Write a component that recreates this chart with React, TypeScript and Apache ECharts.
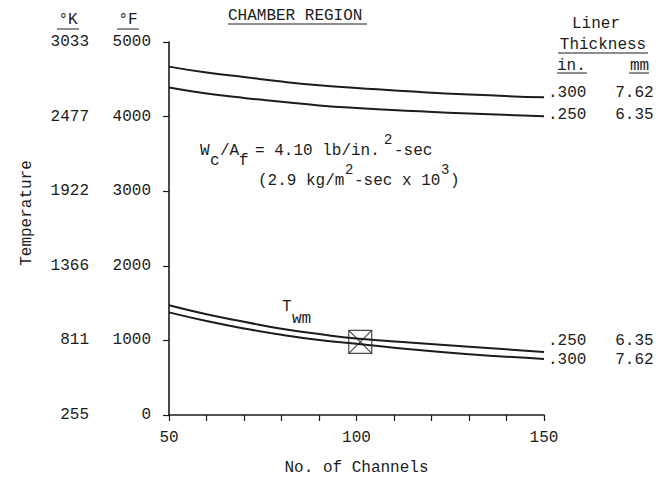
import React, { useEffect, useRef } from "react";
import * as echarts from "echarts";

// Number of coolant channels (x values of every curve)
const channels = [50, 60, 70, 80, 90, 100, 115, 130, 150];

// Chamber gas-side curves, °F
const gasSide300 = [4670, 4590, 4530, 4470, 4420, 4385, 4335, 4295, 4258];
const gasSide250 = [4390, 4310, 4250, 4200, 4150, 4115, 4075, 4040, 4005];

// Mean wall temperature T_wm curves, °F
const wallMean250 = [1470, 1350, 1250, 1155, 1085, 1025, 968, 915, 845];
const wallMean300 = [1376, 1260, 1160, 1075, 1005, 955, 878, 815, 752];

// Design point (boxed X)
const designX = [101];
const designY = [980];

// Kelvin equivalents of the °F ticks 0..5000
const kelvinLabels = ["255", "811", "1366", "1922", "2477", "3033"];

// Liner thickness labels at the curve ends
const thicknessIn = { t300: ".300", t250: ".250" };
const thicknessMm = { t300: "7.62", t250: "6.35" };

const FONT = '"Liberation Mono", "DejaVu Sans Mono", monospace';
const INK = "#1c1c1c";
const FS = 16;

const pairs = (ys: number[]) => channels.map((c, i) => [c, ys[i]]);

function txt(text: string, x: number, y: number, align = "left", extra: any = {}, size = FS) {
  return {
    type: "text",
    x,
    y,
    silent: true,
    ...extra,
    style: {
      text,
      fontFamily: FONT,
      fontSize: size,
      fill: INK,
      align,
      verticalAlign: "middle",
    },
  };
}

function rule(x1: number, x2: number, y: number) {
  return {
    type: "line",
    silent: true,
    shape: { x1, y1: y, x2, y2: y },
    style: { stroke: INK, lineWidth: 1 },
  };
}

function curve(name: string, ys: number[], label: string, dy: number) {
  return {
    name,
    type: "line",
    data: pairs(ys),
    smooth: true,
    showSymbol: false,
    symbol: "none",
    lineStyle: { color: INK, width: 2 },
    endLabel: {
      show: true,
      formatter: label,
      fontFamily: FONT,
      fontSize: FS,
      color: INK,
      distance: 4,
      offset: [0, dy],
    },
  };
}

export default function App() {
  const ref = useRef<HTMLDivElement>(null);

  useEffect(() => {
    if (!ref.current) return;
    const chart = echarts.init(ref.current, null, { renderer: "svg" });

    const option: any = {
      animation: false,
      backgroundColor: "#ffffff",
      grid: { left: 169, right: 128, top: 42, bottom: 63 },
      xAxis: {
        type: "value",
        min: 50,
        max: 150,
        interval: 50,
        name: "No. of Channels",
        nameLocation: "middle",
        nameGap: 45,
        nameTextStyle: { fontFamily: FONT, fontSize: FS, color: INK },
        axisLine: { show: true, onZero: false, lineStyle: { color: INK, width: 1.6 } },
        axisTick: { show: true, length: 6, lineStyle: { color: INK, width: 1.2 } },
        minorTick: { show: true, splitNumber: 5, length: 6, lineStyle: { color: INK, width: 1.2 } },
        splitLine: { show: false },
        minorSplitLine: { show: false },
        axisLabel: { margin: 15, fontFamily: FONT, fontSize: FS, color: INK, formatter: (v: number) => String(v) },
      },
      yAxis: [
        {
          type: "value",
          min: 0,
          max: 5000,
          interval: 1000,
          position: "left",
          axisLine: { show: true, onZero: false, lineStyle: { color: INK, width: 1.6 } },
          axisTick: { show: true, length: 6, lineStyle: { color: INK, width: 1.2 } },
          splitLine: { show: false },
          axisLabel: {
            margin: 18,
            fontFamily: FONT,
            fontSize: FS,
            color: INK,
            formatter: (v: number) => String(v),
          },
        },
        {
          type: "value",
          min: 0,
          max: 5000,
          interval: 1000,
          position: "left",
          axisLine: { show: false },
          axisTick: { show: false },
          splitLine: { show: false },
          axisLabel: {
            margin: 80,
            fontFamily: FONT,
            fontSize: FS,
            color: INK,
            formatter: (v: number) => kelvinLabels[Math.round(v / 1000)] ?? "",
          },
        },
      ],
      series: [
        curve("gas300", gasSide300, `${thicknessIn.t300}   ${thicknessMm.t300}`, -4),
        curve("gas250", gasSide250, `${thicknessIn.t250}   ${thicknessMm.t250}`, -1),
        curve("twm250", wallMean250, `${thicknessIn.t250}   ${thicknessMm.t250}`, -11),
        curve("twm300", wallMean300, `${thicknessIn.t300}   ${thicknessMm.t300}`, 1),
        {
          name: "design",
          type: "scatter",
          data: designX.map((x, i) => [x, designY[i]]),
          symbol: "path://M0,0H24V24H0Z M0,0L24,24 M24,0L0,24",
          symbolSize: 23,
          itemStyle: { color: "rgba(0,0,0,0)", borderColor: INK, borderWidth: 1.2 },
          z: 5,
        },
      ],
      graphic: [
        // column headers
        txt("°K", 68, 20, "center"),
        rule(57, 79, 29),
        txt("°F", 128, 20, "center"),
        rule(117, 139, 29),
        txt("CHAMBER REGION", 228, 16),
        rule(228, 367, 24),
        // liner thickness key
        txt("Liner", 596, 24, "center"),
        txt("Thickness", 603, 45, "center"),
        rule(558, 648, 53),
        txt("in.", 557, 66),
        rule(557, 587, 73),
        txt("mm", 630, 66),
        rule(629, 649, 73),
        // flow-rate annotation
        txt("W", 200, 151),
        txt("c", 210, 161),
        txt("/A", 220, 151),
        txt("f", 239, 161),
        txt("= 4.10 lb/in.", 255, 151),
        txt("2", 384, 140, "left", {}, 14),
        txt("-sec", 394, 151),
        txt("(2.9 kg/m", 258, 181),
        txt("2", 345, 170, "left", {}, 14),
        txt("-sec x 10", 354, 181),
        txt("3", 441, 170, "left", {}, 14),
        txt(")", 450, 181),
        // wall temperature label
        txt("T", 282, 307),
        txt("wm", 292, 319),
        // y axis title
        txt("Temperature", 27, 213, "center", { rotation: Math.PI / 2 }),
      ],
    };

    chart.setOption(option);
    return () => chart.dispose();
  }, []);

  return (
    <div
      ref={ref}
      style={{ position: "fixed", left: 0, top: 0, width: 672, height: 481, background: "#fff" }}
    />
  );
}
